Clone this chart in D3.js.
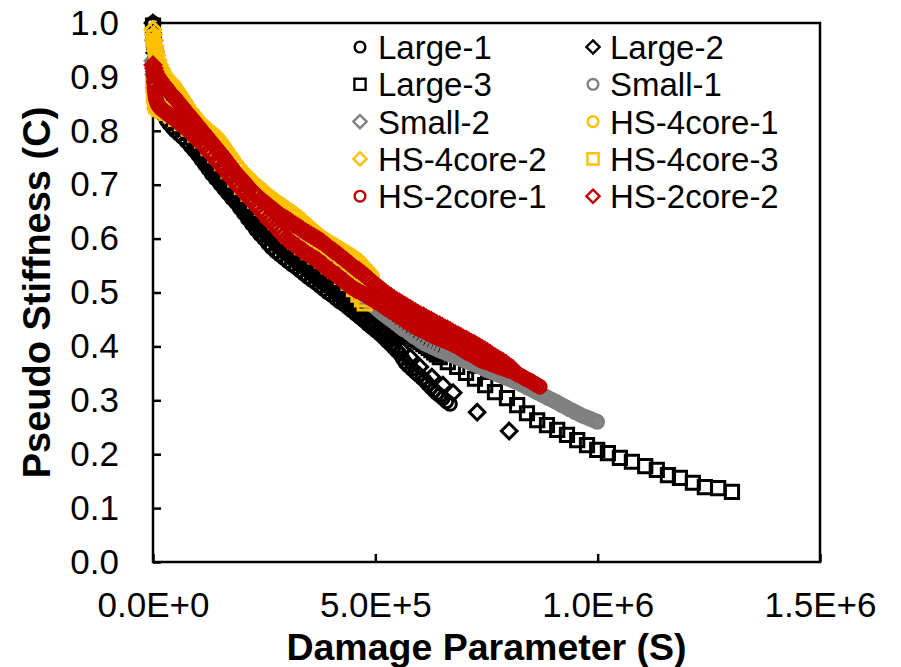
<!DOCTYPE html>
<html><head><meta charset="utf-8">
<script src="https://cdn.jsdelivr.net/npm/d3@7"></script>
<style>body{margin:0;background:#fff}svg text{font-family:"Liberation Sans",Arial,sans-serif}</style>
</head><body><svg id="c" width="901" height="667"></svg>
<script>
// Each point: [S in thousands, C x 1000]
const large1 = [[0,1000],[1,972],[2,950],[3,932],[4,915],[5,902],[7,884],[9,870],[12,857],[15,847],[19,838],[24,829],[30,820],[36,813],[43,806],[50,800],[58,794],[66,788],[75,780],[84,772],[92,764],[100,756],[108,747],[116,738],[124,729],[132,720],[141,711],[150,702],[159,693],[168,684],[177,675],[186,667],[195,657],[204,647],[213,637],[222,627],[231,617],[240,608],[249,600],[258,591],[267,583],[276,576],[285,570],[294,564],[303,558],[312,552],[321,547],[330,541],[339,535],[348,529],[357,523],[366,518],[375,512],[384,506],[393,500],[402,495],[411,489],[420,483],[429,478],[438,472],[447,466],[456,460],[465,454],[474,448],[483,441],[492,435],[501,429],[510,423],[518,417],[526,410],[534,404],[541,398],[548,392],[555,386],[561,378],[567,370],[574,364],[582,358],[590,352],[597,347],[605,341],[612,336],[618,330],[625,324],[632,318],[638,313],[645,309],[652,304],[660,298],[668,293]];
const large2 = [[0,1000],[2,968],[4,945],[7,922],[11,900],[16,882],[22,866],[30,851],[36,842],[42,833],[48,825],[54,818],[60,811],[66,805],[72,798],[78,792],[84,786],[90,779],[96,772],[102,765],[108,758],[114,752],[120,745],[126,738],[132,731],[138,724],[144,718],[150,711],[156,705],[162,698],[168,692],[174,686],[180,679],[186,673],[192,667],[198,661],[204,655],[210,648],[216,642],[222,636],[228,631],[234,626],[240,620],[246,615],[252,610],[258,605],[264,600],[270,596],[276,591],[282,586],[288,582],[294,577],[300,573],[306,569],[312,565],[318,561],[324,557],[330,553],[336,549],[342,545],[348,541],[354,537],[360,533],[366,529],[372,525],[378,521],[384,517],[390,513],[396,509],[402,505],[408,501],[414,497],[420,493],[426,489],[432,485],[438,481],[444,477],[450,473],[456,468],[462,464],[468,459],[474,455],[480,451],[486,446],[492,442],[498,437],[504,433],[510,428],[516,424],[522,419],[528,415],[534,411],[540,406],[560,393],[578,380],[600,362],[627,343],[652,328],[675,314],[729,278],[801,243]];
const large3 = [[0,995],[2,968],[5,942],[9,920],[14,903],[20,890],[26,881],[32,873],[38,865],[44,858],[50,850],[56,843],[62,836],[68,829],[74,822],[80,814],[86,806],[92,798],[98,790],[104,782],[110,774],[116,766],[122,758],[128,751],[134,744],[140,738],[146,731],[152,724],[158,717],[164,710],[170,703],[176,696],[182,689],[188,682],[194,676],[200,670],[206,663],[212,657],[218,650],[224,642],[230,637],[236,631],[242,626],[248,621],[254,615],[260,610],[266,606],[272,601],[278,596],[284,591],[290,587],[296,582],[302,578],[308,575],[314,571],[320,567],[326,564],[332,560],[338,557],[344,554],[350,550],[356,547],[362,544],[368,540],[374,537],[380,533],[386,529],[392,525],[398,521],[404,518],[410,514],[416,510],[422,506],[428,502],[434,499],[440,495],[446,491],[452,487],[458,484],[464,481],[470,478],[476,475],[482,472],[488,469],[494,467],[500,464],[506,461],[512,458],[518,454],[524,451],[530,448],[536,444],[542,441],[548,438],[554,434],[560,431],[566,428],[572,425],[578,421],[584,418],[590,414],[596,411],[602,408],[608,404],[614,401],[620,397],[626,393],[632,389],[638,385],[645,380],[663,371],[684,362],[704,351],[724,340],[747,328],[769,315],[796,304],[819,291],[841,276],[864,263],[886,254],[909,245],[931,236],[954,226],[976,217],[999,208],[1023,202],[1050,193],[1077,186],[1107,178],[1133,171],[1158,161],[1185,156],[1214,147],[1241,139],[1271,137],[1302,130]];
const small1 = [[0,905],[1,893],[3,875],[6,862],[10,853],[15,846],[22,840],[30,835],[40,829],[50,823],[62,815],[75,806],[88,797],[100,787],[113,777],[126,764],[140,752],[155,736],[170,721],[185,707],[200,692],[218,676],[235,661],[250,647],[265,632],[280,620],[295,606],[310,594],[325,586],[340,577],[355,569],[369,561],[385,551],[400,543],[415,534],[430,521],[443,512],[451,506],[459,500],[467,494],[475,489],[483,483],[491,478],[499,473],[507,467],[515,462],[523,457],[531,452],[539,447],[547,442],[555,437],[563,432],[571,428],[579,423],[587,418],[595,414],[603,409],[611,405],[619,402],[627,399],[635,396],[643,393],[651,390],[661,387],[667,385],[673,383],[679,381],[685,379],[691,377],[697,375],[703,373],[709,371],[715,369],[721,367],[727,365],[733,363],[739,361],[745,358],[751,356],[757,354],[763,352],[769,350],[775,348],[781,346],[787,344],[793,342],[799,340],[805,338],[811,336],[817,334],[823,332],[829,329],[835,327],[841,324],[847,322],[853,319],[859,317],[865,314],[871,312],[877,309],[883,307],[889,304],[895,302],[901,299],[907,297],[913,294],[919,291],[925,289],[931,286],[937,283],[943,281],[949,278],[955,276],[961,273],[967,271],[973,269],[979,267],[985,265],[991,263],[997,261],[999,260]];
const small2 = [[0,930],[2,905],[5,880],[9,860],[15,849],[22,842],[30,838],[40,830],[52,822],[65,814],[80,803],[95,793],[110,780],[125,766],[140,753],[155,738],[170,723],[185,709],[200,694],[215,681],[230,667],[245,653],[260,640],[275,627],[290,616],[305,602],[320,592],[335,582],[350,574],[365,566],[380,557],[395,548],[410,538],[425,528],[440,518],[455,509],[470,501],[485,495],[500,488],[515,480],[530,471],[545,462],[560,454],[575,446],[590,439],[605,432],[620,427]];
const hs4core1 = [[0,975],[1,965],[2,958],[3,952],[5,944],[7,938],[10,931],[13,925],[16,919],[20,913],[24,907],[28,901],[33,896],[38,891],[44,886],[50,881],[56,873],[62,866],[68,858],[75,849],[82,840],[90,831],[97,824],[105,816],[112,810],[120,804],[127,799],[133,795],[139,791],[145,786],[150,781],[155,776],[160,770],[165,764],[170,758],[175,752],[182,744],[190,735],[197,728],[204,721],[211,715],[218,710],[224,705],[230,700],[236,696],[242,692],[247,688],[254,683],[262,678],[270,673],[278,668],[286,664],[294,659],[301,655],[308,651],[316,646],[323,642],[330,637],[338,631],[345,626],[353,620],[360,615],[367,610],[375,605],[383,600],[391,596],[399,592],[407,588],[415,584],[422,580],[429,577],[436,573],[443,570],[450,566],[458,561],[465,556],[472,549],[479,543],[486,537],[493,530]];
const hs4core2 = [[0,988],[1,978],[2,968],[4,958],[6,948],[8,940],[11,931],[14,923],[18,915],[22,908],[27,900],[32,893],[38,886],[45,877],[52,869],[60,859],[68,849],[76,839],[84,829],[92,820],[100,811],[110,800],[120,790],[130,779],[140,769],[150,759],[160,749],[170,740],[180,731],[190,722],[200,713],[210,705],[220,697],[230,690],[240,683],[250,676],[260,669],[270,662],[280,655],[290,649],[300,642],[310,636],[320,629],[330,623],[340,617],[350,610],[360,604],[370,598],[380,591],[390,585],[400,579],[410,572],[420,566],[430,560],[440,553],[450,546],[460,539],[470,532],[480,525],[490,518],[500,510]];
const hs4core3 = [[0,885],[2,865],[4,852],[7,846],[11,843],[16,840],[22,837],[30,833],[40,829],[52,822],[65,814],[80,804],[95,793],[110,782],[125,768],[140,755],[155,740],[170,725],[185,710],[200,696],[215,683],[230,670],[245,657],[260,644],[275,631],[290,619],[305,605],[320,594],[335,584],[350,575],[365,567],[380,559],[395,549],[410,540],[425,529],[440,518],[452,506],[462,496],[470,487],[476,480]];
const hs2core1 = [[0,915],[1,903],[2,891],[3,880],[4,872],[5,865],[6,860],[8,855],[10,850],[13,846],[16,843],[20,840],[24,837],[28,835],[32,832],[36,830],[40,827],[44,825],[48,822],[54,818],[60,814],[66,810],[72,806],[78,802],[84,797],[90,792],[96,787],[102,783],[108,778],[114,773],[120,767],[126,761],[132,756],[138,750],[144,744],[150,739],[156,733],[162,727],[168,721],[174,715],[180,709],[186,703],[192,698],[198,693],[204,687],[210,682],[216,676],[222,671],[228,665],[234,660],[240,654],[246,649],[252,643],[258,637],[264,632],[270,627],[276,622],[282,616],[288,611],[294,605],[300,600],[306,596],[312,592],[318,589],[324,585],[330,582],[336,578],[342,574],[348,571],[354,568],[360,565],[366,562],[372,558],[378,554],[384,550],[390,546],[396,542],[402,538],[408,535],[414,531],[420,527],[426,523],[432,519],[438,515],[444,511],[450,508],[456,505],[462,502],[468,500],[474,497],[480,494],[486,491],[492,488],[498,485],[504,482],[510,479],[516,476],[522,472],[528,469],[534,466],[540,463],[546,460],[552,456],[558,453],[564,450],[570,446],[576,443],[582,440],[588,437],[594,434],[600,432],[606,429],[612,427],[618,425],[624,422],[630,420],[636,417],[642,415],[648,413],[654,411],[660,409],[666,407],[672,405],[678,402],[684,400],[690,397],[696,394],[702,391],[708,388],[714,386],[720,383],[726,380],[732,377],[738,374],[744,372],[750,370],[756,369],[762,367],[768,365],[774,363],[780,361],[786,360],[792,358],[798,356],[804,354],[810,353],[816,350],[822,347],[828,345],[834,342],[840,339],[846,337],[852,334],[858,331],[864,328],[870,325]];
const hs2core2 = [[0,922],[2,916],[4,910],[6,906],[9,902],[12,898],[15,895],[18,891],[21,888],[24,885],[27,882],[30,879],[34,875],[38,871],[42,868],[46,864],[50,860],[54,856],[58,852],[62,848],[66,844],[70,840],[74,836],[78,832],[82,828],[86,824],[90,820],[94,816],[98,812],[102,808],[106,804],[110,800],[114,796],[118,792],[122,788],[126,784],[130,780],[134,776],[138,772],[142,768],[146,764],[150,760],[154,756],[158,752],[162,747],[166,743],[170,739],[174,734],[178,730],[182,726],[186,722],[190,718],[194,715],[198,711],[202,708],[206,704],[210,700],[214,696],[218,692],[224,687],[230,682],[236,678],[242,673],[248,669],[254,665],[260,661],[266,657],[272,653],[278,649],[284,645],[290,641],[296,638],[302,635],[308,632],[314,628],[320,625],[326,622],[332,619],[338,615],[344,612],[350,609],[356,606],[362,603],[368,600],[374,597],[380,594],[386,590],[392,586],[398,582],[404,578],[410,575],[416,571],[422,567],[428,563],[434,559],[440,555],[446,551],[452,547],[458,543],[464,540],[470,536],[476,532],[482,528],[488,524],[494,519],[500,515],[506,511],[512,507],[518,503],[524,499],[530,495],[536,492],[542,488],[548,485],[554,482],[560,479],[566,476],[572,473],[578,470],[584,467],[590,464],[596,461],[602,458],[608,456],[614,453],[620,450],[626,448],[632,445],[638,442],[644,440],[650,437],[656,434],[662,432],[668,429],[674,426],[680,423],[686,421],[692,418],[698,415],[704,413],[710,410],[716,407],[722,405],[728,402],[734,399],[740,396],[746,393],[752,390],[758,387],[764,383],[770,380],[776,377],[782,374],[788,371],[794,368],[800,364],[806,360],[810,358]];

const seriesNames = ["Large-1","Large-2","Large-3","Small-1","Small-2","HS-4core-1","HS-4core-2","HS-4core-3","HS-2core-1","HS-2core-2"];
const seriesData = [large1, large2, large3, small1, small2, hs4core1, hs4core2, hs4core3, hs2core1, hs2core2];
const seriesColors = ["#000000","#000000","#000000","#808080","#808080","#FFC000","#FFC000","#FFC000","#C00000","#C00000"];
const seriesShapes = ["circle","diamond","square","circle","diamond","circle","diamond","square","circle","diamond"];
const xTickValues = [0, 500000, 1000000, 1500000];
const xTickLabels = ["0.0E+0","5.0E+5","1.0E+6","1.5E+6"];
const yTickValues = [0,0.1,0.2,0.3,0.4,0.5,0.6,0.7,0.8,0.9,1.0];
const yTickLabels = ["0.0","0.1","0.2","0.3","0.4","0.5","0.6","0.7","0.8","0.9","1.0"];
const xTitle = "Damage Parameter (S)";
const yTitle = "Pseudo Stiffness (C)";

const svg = d3.select("#c");
const L = 153, R = 820, T = 23, B = 562;
const x = d3.scaleLinear().domain([0, 1500000]).range([L, R]);
const y = d3.scaleLinear().domain([0, 1]).range([B, T]);

function shapePath(s) {
  if (s === "circle") { const r = 6.3; return `M${r},0A${r},${r} 0 1,1 ${-r},0A${r},${r} 0 1,1 ${r},0Z`; }
  if (s === "square") { const h = 6.6; return `M${-h},${-h}H${h}V${h}H${-h}Z`; }
  const d = 7.8; return `M0,${-d}L${d},0L0,${d}L${-d},0Z`;
}

// frame
svg.append("rect").attr("x", L).attr("y", T).attr("width", R - L).attr("height", B - T)
  .attr("fill", "none").attr("stroke", "#000").attr("stroke-width", 2.5);

// axes
const xAxis = d3.axisBottom(x).tickValues(xTickValues).tickSizeInner(-8).tickSizeOuter(0).tickPadding(30)
  .tickFormat((d, i) => xTickLabels[i]);
const gx = svg.append("g").attr("transform", `translate(0,${B})`).call(xAxis);
const yAxis = d3.axisLeft(y).tickValues(yTickValues).tickSizeInner(-8).tickSizeOuter(0).tickPadding(34)
  .tickFormat((d, i) => yTickLabels[i]);
const gy = svg.append("g").attr("transform", `translate(${L},0)`).call(yAxis);
[gx, gy].forEach(g => {
  g.select(".domain").remove();
  g.selectAll("line").attr("stroke", "#000").attr("stroke-width", 2.5);
  g.selectAll("text").attr("font-family", '"Liberation Sans", Arial, sans-serif').attr("font-size", 35).attr("fill", "#000");
});

// series
seriesData.forEach((data, i) => {
  svg.append("g").selectAll("path").data(data).join("path")
    .attr("d", shapePath(seriesShapes[i]))
    .attr("transform", d => `translate(${x(d[0] * 1000)},${y(d[1] / 1000)})`)
    .attr("fill", "none").attr("stroke", seriesColors[i]).attr("stroke-width", 3);
});

// legend
const leg = svg.append("g");
seriesNames.forEach((name, i) => {
  const col = i % 2, row = Math.floor(i / 2);
  const mx = col ? 593 : 360, tx = col ? 610 : 378;
  const cy = 47 + row * 37.3;
  leg.append("path").attr("d", shapePath(seriesShapes[i]))
    .attr("transform", `translate(${mx},${cy}) scale(0.85)`)
    .attr("fill", "none").attr("stroke", seriesColors[i]).attr("stroke-width", 2.8);
  leg.append("text").attr("x", tx).attr("y", cy + 12).attr("font-size", 33).attr("fill", "#000").text(name);
});

// titles
svg.append("text").attr("x", (L + R) / 2).attr("y", 660).attr("text-anchor", "middle")
  .attr("font-size", 37.5).attr("font-weight", "bold").text(xTitle);
svg.append("text").attr("transform", `translate(50,${(T + B) / 2}) rotate(-90)`).attr("text-anchor", "middle")
  .attr("font-size", 38).attr("font-weight", "bold").text(yTitle);
</script></body></html>
